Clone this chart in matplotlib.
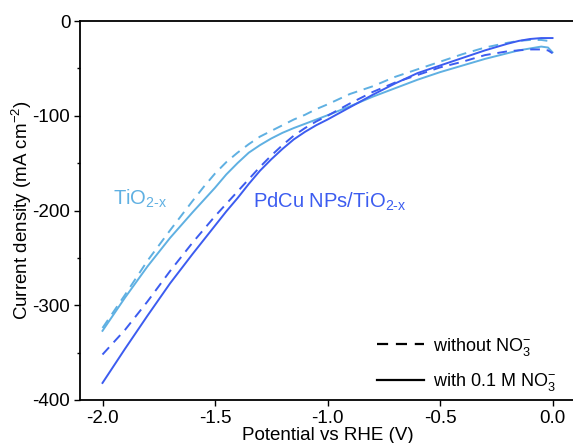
import matplotlib
matplotlib.use("Agg")
import matplotlib.pyplot as plt
from matplotlib.ticker import MultipleLocator

plt.rcParams['font.family'] = ['Liberation Sans', 'DejaVu Sans']
plt.rcParams['mathtext.fontset'] = 'custom'
plt.rcParams['mathtext.rm'] = 'Liberation Sans'
plt.rcParams['mathtext.it'] = 'Liberation Sans:italic'
plt.rcParams['mathtext.bf'] = 'Liberation Sans:bold'

potential = [-2.0, -1.9, -1.8, -1.7, -1.6, -1.55, -1.5, -1.45, -1.4, -1.35, -1.3,
             -1.25, -1.2, -1.15, -1.1, -1.05, -1.0, -0.9, -0.8, -0.7, -0.6, -0.5,
             -0.4, -0.3, -0.2, -0.15, -0.1, -0.05, -0.02, 0.0]

tio2_with = [-327, -292, -259, -229, -202, -189, -176, -162, -150, -139, -131,
             -124, -118, -113, -108.5, -104, -99.5, -90, -80, -71, -62, -54,
             -47, -40, -34, -31, -29, -27, -28, -33]
tio2_without = [-324, -289, -253, -221, -190, -175, -161, -149, -139, -130, -122,
                -116, -110, -104, -99, -93, -88, -77, -69, -59, -51, -43,
                -35, -28, -23, -21, -20, -20, -21, -24]
pdcu_with = [-382, -346, -311, -277, -246, -231, -216, -201, -187, -172, -158,
             -146, -135, -125, -117, -110, -104, -91, -78, -66, -55, -47,
             -39, -31, -24, -21, -19, -18, -18, -18]
pdcu_without = [-352, -326, -296, -264, -234, -220, -206, -193, -180, -167, -154,
                -142, -131, -121, -113, -106, -100, -87, -75, -65, -57, -49,
                -43, -36, -32, -31, -30, -30, -31, -34]

light = '#5fb0e2'
dark = '#3c5cf0'

W, H = 573, 443
fig = plt.figure(figsize=(W / 100, H / 100), dpi=100)
ax = fig.add_axes([80 / W, 43 / H, 495 / W, 379 / H])

lw = 1.4
dash = (0, (5, 3.5))
ax.plot(potential, tio2_without, color=light, lw=lw, ls=dash)
ax.plot(potential, tio2_with, color=light, lw=lw)
ax.plot(potential, pdcu_without, color=dark, lw=lw, ls=dash)
ax.plot(potential, pdcu_with, color=dark, lw=lw)

ax.plot([], [], color='black', lw=1.6, ls=dash, label='without NO$_3^{-}$')
ax.plot([], [], color='black', lw=1.6, label='with 0.1 M NO$_3^{-}$')
ax.legend(loc='lower right', frameon=False, fontsize=13, handlelength=2.6,
          handletextpad=0.5, labelspacing=0.75, bbox_to_anchor=(0.995, -0.025))

ax.text(-1.953, -194, 'TiO$_{\\text{2-x}}$', color=light, fontsize=14.5, va='baseline')
ax.text(-1.329, -197, 'PdCu NPs/TiO$_{\\text{2-x}}$', color=dark, fontsize=14.5, va='baseline')

ax.set_xlim(-2.1, 0.1)
ax.set_ylim(-400, 0)
ax.yaxis.set_minor_locator(MultipleLocator(50))
ax.tick_params(which='major', direction='out', length=4, width=1, labelsize=13.5)
ax.tick_params(axis='x', which='major', pad=3.5)
ax.tick_params(axis='y', which='major', pad=3)
ax.tick_params(which='minor', direction='out', length=2, width=1)
ax.set_xticks([-2.0, -1.5, -1.0, -0.5, 0.0])
ax.set_xticklabels(['-2.0', '-1.5', '-1.0', '-0.5', '0.0'])
ax.set_yticks([0, -100, -200, -300, -400])
ax.set_yticklabels(['0', '-100', '-200', '-300', '-400'])

for s in ['left', 'bottom', 'top']:
    ax.spines[s].set_linewidth(1.3)
ax.spines['right'].set_visible(False)

ax.set_xlabel('Potential vs RHE (V)', fontsize=13.5, labelpad=0)
ax.set_ylabel('Current density (mA cm$^{-2}$)', fontsize=13.5, labelpad=-1)

fig.savefig('out.png', dpi=100)
